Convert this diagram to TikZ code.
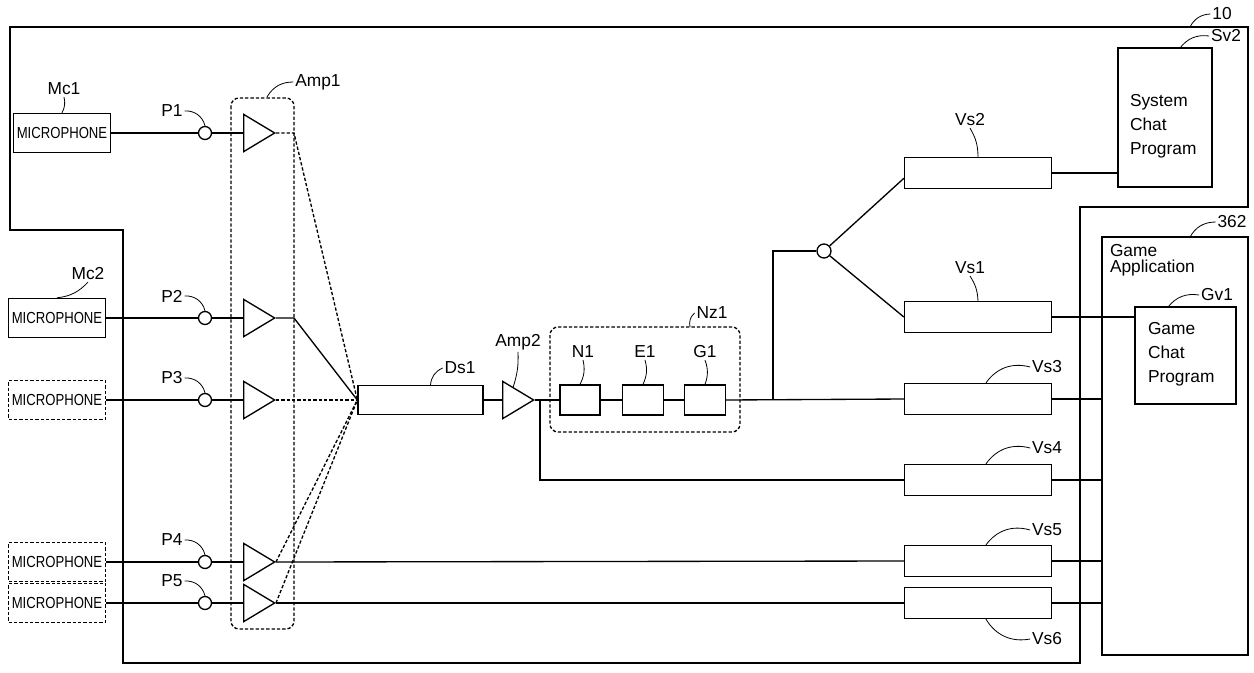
\documentclass[tikz,border=0pt]{standalone}
\usepackage{fontspec}
\setmainfont{Liberation Sans}
\usetikzlibrary{shapes.geometric}
\begin{document}
\begin{tikzpicture}[x=0.75pt,y=-0.75pt,line width=1pt,
  box/.style={draw,rectangle,minimum width=#1*0.75pt,minimum height=31*0.75pt,inner sep=0pt},
  sq/.style={draw,rectangle,minimum width=#1*0.75pt,minimum height=30*0.75pt,inner sep=0pt},
  mic/.style={draw,rectangle,minimum width=97*0.75pt,minimum height=39*0.75pt,inner sep=0pt,font=\fontsize{12}{12}\selectfont},
  dmic/.style={mic,dashed},
  amp/.style={draw,isosceles triangle,isosceles triangle apex angle=62,minimum height=31*0.75pt,inner sep=0pt,anchor=west},
  port/.style={draw,circle,minimum size=13*0.75pt,inner sep=0pt,fill=white},
  lbl/.style={font=\fontsize{13}{13}\selectfont,inner sep=1pt},
  dsh/.style={dash pattern=on 2.5pt off 1.5pt},
  lead/.style={line width=0.6pt}]
\useasboundingbox (0,0) rectangle (1254,672);
% device outline 10
\draw (10,27) -- (1248,27) -- (1248,207) -- (1080,207) -- (1080,663) -- (123,663) -- (123,230) -- (10,230) -- cycle;
\node[lbl] (l10) at (1222,14) {10};
\draw[lead] (1190,27) to[bend left=30] (l10.west);
% microphones
\node[mic] (mc1) at (62,133) {\scalebox{0.82}[1]{MICROPHONE}};
\node[mic] (mc2) at (57,318) {\scalebox{0.82}[1]{MICROPHONE}};
\node[dmic,dsh] (mc3) at (57,400) {\scalebox{0.82}[1]{MICROPHONE}};
\node[dmic,dsh] (mc4) at (57,562) {\scalebox{0.82}[1]{MICROPHONE}};
\node[dmic,dsh] (mc5) at (57,603) {\scalebox{0.82}[1]{MICROPHONE}};
\node[lbl] (lmc1) at (64,89) {Mc1};
\draw[lead] (lmc1.south) to[bend left=20] (mc1.north);
\node[lbl] (lmc2) at (88,274) {Mc2};
\draw[lead] (lmc2.south) to[bend left=20] (mc2.north);
% ports and amplifiers
\foreach \i/\y in {1/133,2/318,3/400,4/562,5/603}{
  \node[port] (p\i) at (205,\y) {};
  \node[amp] (a\i) at (243,\y) {};
  \node[lbl] (lp\i) at (172,\y-22) {P\i};
  \draw[lead] (lp\i.east) to[bend left=40] (p\i.north);
}
\foreach \i in {1,...,5}{\draw (mc\i) -- (p\i) -- (a\i.west);}
% Amp1 group
\draw[dsh,rounded corners=6pt] (231,98) rectangle (294,629);
\node[lbl] (lamp1) at (318,82) {Amp1};
\draw[lead] (267,97) to[bend left=30] (lamp1.west);
% Ds1
\node[box=125,minimum height=29*0.75pt] (ds1) at (420.5,400) {};
\coordinate (cv) at (ds1.west);
\draw[dsh] (a1.apex) -- (294,133) -- (cv);
\draw (a2.apex) -- (294,318) -- (cv);
\draw[dsh] (a3.apex) -- (cv);
\draw[dsh] (a4.apex) -- (cv);
\draw[dsh] (a5.apex) -- (cv);
\node[lbl] (lds1) at (460,368) {Ds1};
\draw[lead] ([xshift=7.5pt]ds1.north) to[bend left=30] (lds1.west);
% Amp2
\node[amp] (amp2) at (502,400) {};
\draw (ds1.east) -- (amp2.west);
\node[lbl] (lamp2) at (518,342) {Amp2};
\draw[lead] (lamp2.south) to[bend left=10] (amp2.north);
% Nz1
\draw[dsh,rounded corners=6pt] (550,327) rectangle (740,432);
\node[lbl] (lnz1) at (712,313) {Nz1};
\draw[lead] (690,327) to[bend left=30] (lnz1.west);
\node[sq=40] (n1) at (580,400) {};
\node[sq=41] (e1) at (643,400) {};
\node[sq=41] (g1) at (705,400) {};
\node[lbl] (ln1) at (583,352) {N1};
\node[lbl] (le1) at (645,352) {E1};
\node[lbl] (lg1) at (705,352) {G1};
\foreach \n in {n1,e1,g1}{\draw[lead] (l\n.south) to[bend left=20] (\n.north);}
\draw (amp2.apex) -- (n1.west);
\draw (n1) -- (e1) -- (g1);
% Vs boxes
\node[box=147] (vs2) at (978,173) {};
\node[box=147] (vs1) at (978,317) {};
\node[box=147] (vs3) at (978,399) {};
\node[box=147] (vs4) at (978,480) {};
\node[box=147] (vs5) at (978,561) {};
\node[box=147] (vs6) at (978,603) {};
\node[lbl] (lvs2) at (970,120) {Vs2};
\draw[lead] (lvs2.south) to[bend left=15] (vs2.north);
\node[lbl] (lvs1) at (970,268) {Vs1};
\draw[lead] (lvs1.south) to[bend left=15] (vs1.north);
\foreach \v/\y in {3/367,4/448,5/530}{
  \node[lbl] (lvs\v) at (1047,\y) {Vs\v};
  \draw[lead] ([xshift=6pt]vs\v.north) to[bend left=35] (lvs\v.west);
}
\node[lbl] (lvs6) at (1047,639) {Vs6};
\draw[lead] ([xshift=6pt]vs6.south) to[bend right=35] (lvs6.west);
% signal lines
\coordinate (br) at (773,400);
\coordinate (j4) at (540,400);
\node[port,minimum size=14*0.75pt] (split) at (824,251) {};
\draw (g1.east) -- (vs3.west);
\draw (br) -- (773,251) -- (split);
\draw (split) -- ([yshift=-4pt]vs2.west);
\draw (split) -- (vs1.west);
\draw (j4) -- (540,480) -- (vs4.west);
\draw (a4.apex) -- (vs5.west);
\draw (a5.apex) -- (vs6.west);
% Sv2
\node[draw,minimum width=94*0.75pt,minimum height=139*0.75pt,inner sep=0pt] (sv2) at (1165,117.5) {};
\node[lbl,align=left,anchor=west,font=\fontsize{13}{18}\selectfont] at (1128,126) {System\\Chat\\Program};
\node[lbl] (lsv2) at (1226,36) {Sv2};
\draw[lead] (1180,48) to[bend left=30] (lsv2.west);
\draw (vs2.east) -- (sv2.west |- vs2.east);
% 362
\node[draw,minimum width=146*0.75pt,minimum height=418*0.75pt,inner sep=0pt] (app) at (1175,446) {};
\node[lbl,align=left,anchor=north west,font=\fontsize{13}{12}\selectfont] at (1108,242) {Game\\Application};
\node[lbl] (l362) at (1232,222) {362};
\draw[lead] (1190,237) to[bend left=30] (l362.west);
\node[draw,minimum width=101*0.75pt,minimum height=97*0.75pt,inner sep=0pt] (gv1) at (1185.5,355.5) {};
\node[lbl,align=left,anchor=west,font=\fontsize{13}{18}\selectfont] at (1146,354) {Game\\Chat\\Program};
\node[lbl] (lgv1) at (1217,295) {Gv1};
\draw[lead] (1168,307) to[bend left=30] (lgv1.west);
\draw (vs1.east) -- (gv1.west |- vs1.east);
\foreach \v in {3,4,5,6}{\draw (vs\v.east) -- (app.west |- vs\v.east);}
\end{tikzpicture}
\end{document}
